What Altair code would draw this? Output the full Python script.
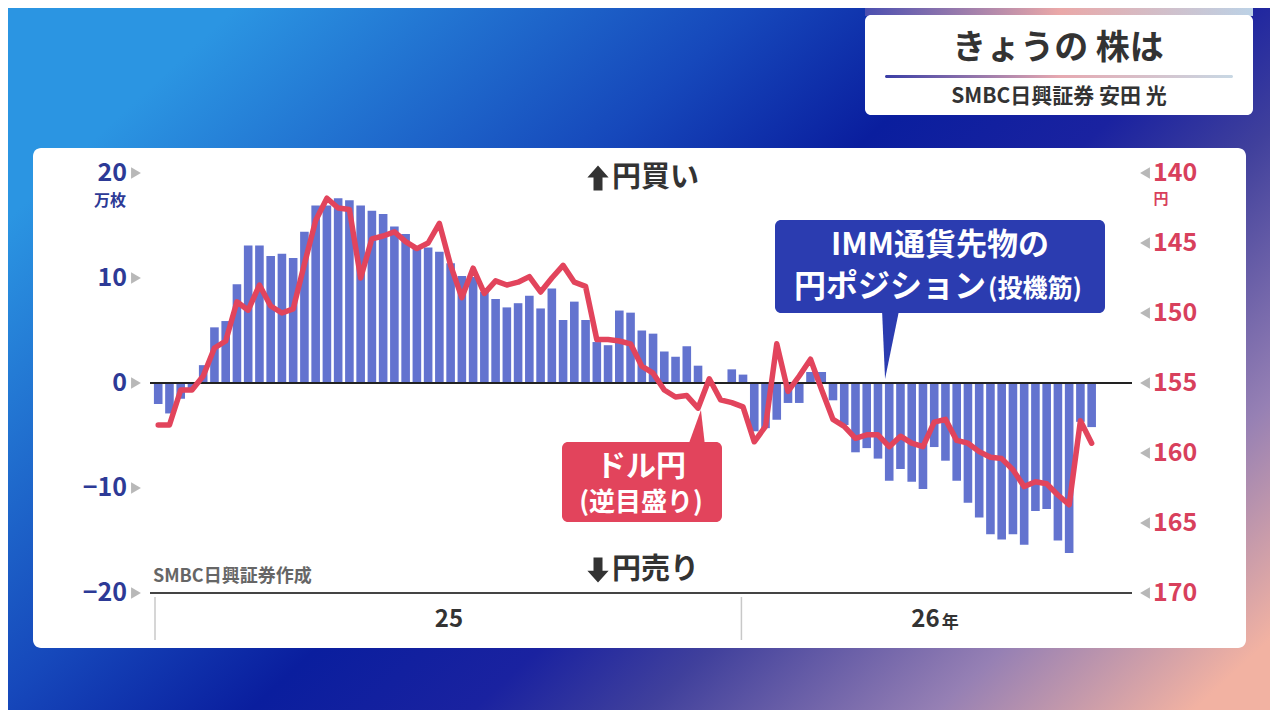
import altair as alt
import pandas as pd

FONT = "Noto Sans CJK JP"

# ---------------- data ----------------
dates = pd.date_range("2025-01-03", periods=84, freq="7D").strftime("%Y-%m-%d").tolist()

# IMM yen net position (speculators), 万枚
imm_position = [
    -2.0, -2.9, -1.5, -0.5, 1.7, 5.3, 5.9, 9.4, 13.1, 13.1,
    12.1, 12.3, 11.9, 14.4, 16.9, 16.9, 17.6, 17.4, 16.9, 16.4,
    16.1, 14.9, 14.2, 13.0, 12.9, 12.5, 11.4, 10.2, 10.1, 8.7,
    8.0, 7.2, 7.6, 8.3, 7.1, 9.0, 6.0, 7.75, 6.0, 3.9,
    3.6, 6.9, 6.7, 5.0, 4.7, 3.0, 2.5, 3.5, 1.65, 0.0,
    0.0, 1.3, 0.8, -4.6, -4.3, -3.5, -1.9, -1.9, 1.05, 1.05,
    -1.65, -4.0, -6.6, -6.2, -7.2, -9.3, -8.2, -9.4, -10.1, -6.1,
    -7.4, -9.3, -11.4, -12.8, -14.4, -14.9, -14.4, -15.4, -12.2, -12.0,
    -15.0, -16.2, -3.7, -4.2,
]

# USD/JPY (inverted scale)
usdjpy = [
    158.0, 158.0, 155.5, 155.5, 154.5, 152.5, 152.0, 149.2, 149.8, 148.0,
    149.5, 150.0, 149.7, 146.5, 143.4, 141.8, 142.5, 142.6, 147.5, 144.7,
    144.5, 144.2, 144.9, 145.4, 145.0, 143.6, 146.6, 148.9, 146.8, 148.6,
    147.7, 148.0, 147.8, 147.4, 148.5, 147.5, 146.6, 147.8, 148.1, 151.9,
    151.9, 152.0, 152.2, 153.8, 154.3, 155.5, 156.0, 155.9, 156.8, 154.7,
    156.2, 156.4, 156.7, 159.2, 158.1, 152.2, 155.6, 154.5, 153.3, 155.5,
    157.6, 158.1, 158.95, 158.7, 158.7, 159.55, 158.8, 159.3, 159.55, 157.8,
    157.6, 159.1, 159.3, 159.9, 160.3, 160.4, 161.2, 162.4, 162.05, 162.2,
    163.0, 163.7, 157.7, 159.3,
]

left_ticks = [-20, -10, 0, 10, 20]
left_tick_labels = ["−20", "−10", "0", "10", "20"]
right_ticks = [140, 145, 150, 155, 160, 165, 170]
right_tick_labels = ["140", "145", "150", "155", "160", "165", "170"]
year_ticks = ["2025-01-01", "2026-01-01"]
year_labels = ["25", "26"]
year_label_dates = ["2025-07-03", "2026-05-05"]

df = pd.DataFrame({"date": dates, "imm": imm_position, "usdjpy": usdjpy})
one = pd.DataFrame({"k": [0]})
ltick_df = pd.DataFrame({"v": left_ticks, "label": left_tick_labels})
rtick_df = pd.DataFrame({"v": right_ticks, "label": right_tick_labels})
xtick_df = pd.DataFrame({"date": year_ticks})
ydf = pd.DataFrame({"date": year_label_dates, "label": year_labels})

# ---------------- geometry (reference pixel -> plot coords) ----------------
OX, OY = 150, 173
W, H = 982, 420


def px(x):
    return x - OX


def py(y):
    return y - OY


xscale = alt.Scale(
    type="utc",
    domain=[alt.DateTime(year=2025, month=1, date=1, utc=True),
            alt.DateTime(year=2026, month=8, date=29, utc=True)],
)
yscale_l = alt.Scale(domain=[-20, 20], nice=False, zero=False)
yscale_r = alt.Scale(domain=[140, 170], nice=False, zero=False, reverse=True)

X = lambda: alt.X("date:T", scale=xscale, axis=None)
YL = lambda f: alt.Y(f, scale=yscale_l, axis=None)
YR = lambda f: alt.Y(f, scale=yscale_r, axis=None)


def rect(x1, y1, x2, y2, color, r=0):
    return alt.Chart(one).mark_rect(color=color, cornerRadius=r).encode(
        x=alt.value(px(x1)), x2=alt.value(px(x2)),
        y=alt.value(py(y1)), y2=alt.value(py(y2)))


def txt(s, x, y, size, color, align="center", weight="bold"):
    return alt.Chart(one).mark_text(
        text=s, font=FONT, fontSize=size, color=color, fontWeight=weight,
        align=align, baseline="middle").encode(
        x=alt.value(px(x)), y=alt.value(py(y)))


def shape(path, cx, cy, half, color):
    return alt.Chart(one).mark_point(
        shape=path, filled=True, opacity=1, strokeWidth=0,
        size=(2 * half) ** 2, color=color).encode(
        x=alt.value(px(cx)), y=alt.value(py(cy)))


def grad(stops, x1=0, y1=0, x2=1, y2=0):
    return alt.LinearGradient(
        gradient="linear", x1=x1, y1=y1, x2=x2, y2=y2,
        stops=[alt.GradientStop(offset=o, color=c) for o, c in stops])


# ---------------- decoration ----------------
bg = rect(8, 8, 1270, 710, grad([
    (0, "#2b95e2"), (0.3, "#1648bb"), (0.45, "#0a1e9e"), (0.58, "#1a22a0"),
    (0.68, "#40409c"), (0.85, "#9680b4"), (1, "#f2b2a2")], 0, 0.3, 1, 0.9))

strip = rect(865, 8, 1253, 16, grad([(0, "#4b4fb0"), (0.5, "#eaa8a8"), (1, "#bcd2e6")]))
tbox = rect(865, 15, 1253, 115, "#ffffff", 6)
divider = rect(885, 75, 1233, 78, grad([(0, "#3a3ea6"), (0.5, "#e6a8b0"), (1, "#c8d8e4")]), 1.5)
title_t = txt("きょうの 株は", 1058, 49, 34, "#333333")
sub_t = txt("SMBC日興証券 安田 光", 1059, 97, 21, "#333333")

panel = rect(33, 148, 1246, 648, "#ffffff", 8)

# ---------------- x axis (year ticks) ----------------
xticks = alt.Chart(xtick_df).mark_rule(color="#c8c8c8", strokeWidth=1.5).encode(
    x=X(), y=alt.value(H + 4), y2=alt.value(H + 47))

# ---------------- bars (left scale) ----------------
bars = alt.Chart(df).mark_bar(size=8.6, color="#6373CF").encode(x=X(), y=YL("imm:Q"))
zero_rule = alt.Chart(one).mark_rule(color="#222222", strokeWidth=2).encode(
    y=alt.datum(0, scale=yscale_l, axis=None))
base_rule = alt.Chart(one).mark_rule(color="#444444", strokeWidth=2).encode(
    y=alt.datum(-20, scale=yscale_l, axis=None))
ltri = alt.Chart(ltick_df).mark_point(
    shape="triangle-right", filled=True, opacity=1, size=130, color="#b8b8b8").encode(
    x=alt.value(-14), y=YL("v:Q"))
llab = alt.Chart(ltick_df).mark_text(
    font=FONT, fontSize=25, fontWeight="bold", color="#2D3A96",
    align="right", baseline="middle").encode(
    x=alt.value(-23), y=YL("v:Q"), text="label:N")
left_layer = alt.layer(bars, zero_rule, base_rule, ltri, llab)

# ---------------- line (right scale) ----------------
line = alt.Chart(df).mark_line(
    color="#E2445C", strokeWidth=5.5, strokeJoin="round", strokeCap="round").encode(
    x=X(), y=YR("usdjpy:Q"))
rtri = alt.Chart(rtick_df).mark_point(
    shape="triangle-left", filled=True, opacity=1, size=130, color="#b8b8b8").encode(
    x=alt.value(995), y=YR("v:Q"))
rlab = alt.Chart(rtick_df).mark_text(
    font=FONT, fontSize=25, fontWeight="bold", color="#D8405C",
    align="left", baseline="middle").encode(
    x=alt.value(W + 21), y=YR("v:Q"), text="label:N")
right_layer = alt.layer(line, rtri, rlab)

# ---------------- annotations ----------------
blue_box = rect(775, 220, 1105, 313, "#2B3CB0", 6)
blue_ptr = shape("M-0.24,-1.05 L0.27,-1.05 L-0.15,1 Z", 890, 346, 33, "#2B3CB0")
blue_t1 = txt("IMM通貨先物の", 940, 246, 31, "#ffffff")
blue_t2a = txt("円ポジション", 986, 287, 32, "#ffffff", align="right")
blue_t2b = txt("(投機筋)", 988, 289, 25, "#ffffff", align="left")

red_box = rect(562, 442, 722, 522, "#E2445C", 6)
red_ptr = shape("M0.29,-1 L0.53,1.1 L-0.47,1.1 Z", 696, 427, 17, "#E2445C")
red_t1 = txt("ドル円", 641, 467, 30, "#ffffff")
red_t2 = txt("(逆目盛り)", 641, 503, 26, "#ffffff")

up_path = "M0,-1 L0.85,-0.05 L0.36,-0.05 L0.36,1 L-0.36,1 L-0.36,-0.05 L-0.85,-0.05 Z"
down_path = "M0,1 L0.85,0.05 L0.36,0.05 L0.36,-1 L-0.36,-1 L-0.36,0.05 L-0.85,0.05 Z"
up_arrow = shape(up_path, 598, 178, 12.5, "#333333")
up_t = txt("円買い", 612, 178, 29, "#333333", align="left")
down_arrow = shape(down_path, 598, 570, 12.5, "#333333")
down_t = txt("円売り", 612, 570, 29, "#333333", align="left")

year25 = alt.Chart(ydf.iloc[[0]]).mark_text(
    font=FONT, fontSize=24, fontWeight="bold", color="#333333",
    align="center", baseline="middle").encode(
    x=X(), y=alt.value(py(620)), text="label:N")
year26 = alt.Chart(ydf.iloc[[1]]).mark_text(
    font=FONT, fontSize=24, fontWeight="bold", color="#333333",
    align="right", baseline="middle", dx=-1).encode(
    x=X(), y=alt.value(py(620)), text="label:N")
nen = alt.Chart(ydf.iloc[[1]]).mark_text(
    text="年", font=FONT, fontSize=17, fontWeight="bold", color="#333333",
    align="left", baseline="middle", dx=1).encode(
    x=X(), y=alt.value(py(623)))

unit_l = txt("万枚", 110, 201, 16, "#2D3A96")
unit_r = txt("円", 1161, 199, 15, "#D8405C")
source_t = txt("SMBC日興証券作成", 153, 577, 18, "#666666", align="left")

chart = alt.layer(
    bg, strip, tbox, divider, title_t, sub_t, panel, xticks,
    left_layer, right_layer,
    blue_box, blue_ptr, blue_t1, blue_t2a, blue_t2b,
    red_box, red_ptr, red_t1, red_t2,
    up_arrow, up_t, down_arrow, down_t,
    year25, year26, nen, unit_l, unit_r, source_t,
).resolve_scale(y="independent").properties(
    width=W, height=H, padding=0
).configure_view(strokeWidth=0)

chart.save("out.html", embed_options={"renderer": "svg", "actions": False})
